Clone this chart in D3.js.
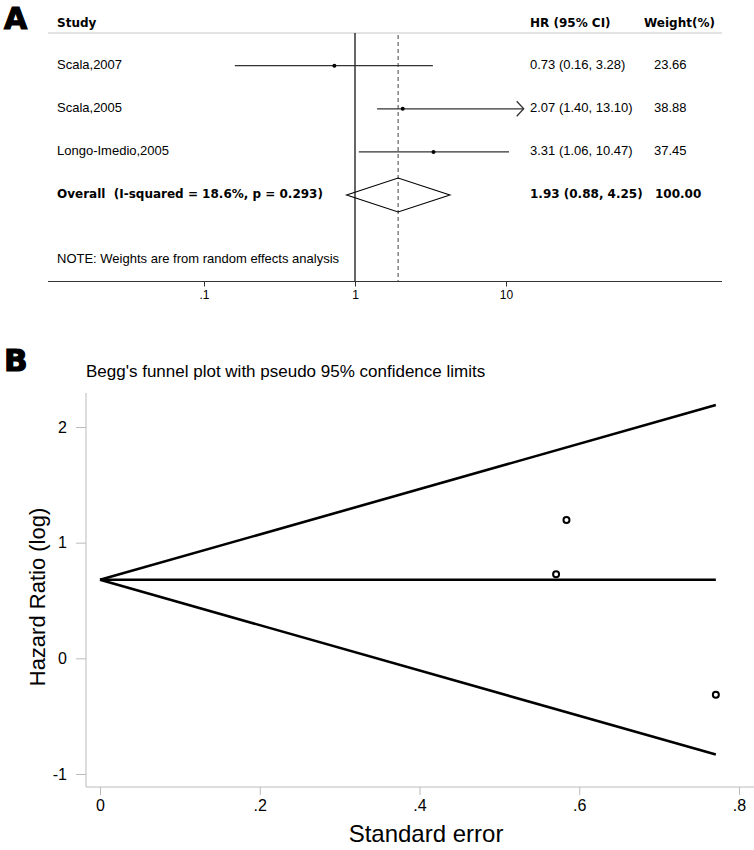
<!DOCTYPE html>
<html>
<head>
<meta charset="utf-8">
<script src="https://cdn.jsdelivr.net/npm/d3@7"></script>
<style>
  body { margin: 0; background: #fff; }
  svg { display: block; }
</style>
</head>
<body>
<script>
// forest plot data (panel A)
const studies = ['Scala,2007', 'Scala,2005', 'Longo-Imedio,2005'];
const hr = [0.73, 2.07, 3.31];
const ciLow = [0.16, 1.40, 1.06];
const ciHigh = [3.28, 13.10, 10.47];
const weights = ['23.66', '38.88', '37.45'];
const arrowRight = [false, true, false];
const overall = [1.93, 0.88, 4.25];   // HR, low, high
const overallLabel = 'Overall  (I-squared = 18.6%, p = 0.293)';
const forestTicks = [0.1, 1, 10];
const forestTickLabels = ['.1', '1', '10'];

// funnel plot data (panel B)
const seVals = [0.771, 0.571, 0.584];
const logHR = [-0.315, 0.728, 1.197];
const pooledSe = [0, 0.771];
const pooledLine = [0.679, 0.679];
const upperLimit = [0.679, 2.19];
const lowerLimit = [0.679, -0.832];
const funnelTicksX = [0, 0.2, 0.4, 0.6, 0.8];
const funnelTicksY = [-1, 0, 1, 2];

const w = 754, h = 850;
const arial = '"Liberation Sans", Arial, sans-serif';
const heavy = '"DejaVu Sans", sans-serif';

const svg = d3.select('body').append('svg')
    .attr('width', w)
    .attr('height', h);

// ---------- Panel A ----------
const xF = d3.scaleLog().domain([0.1, 10]).range([204, 506]);
const yRow = d3.scaleLinear().domain([0, 3]).range([65.7, 195]);
const fLeft = 48, fRight = 722, fTop = 33, axisY = 281.5;

svg.append('text').attr('x', 4).attr('y', 29)
    .style('font-family', heavy).style('font-weight', 'bold').style('font-size', '30px')
    .attr('stroke', '#000').attr('stroke-width', 1.2)
    .text('A');

const head = svg.append('g')
    .style('font-family', heavy).style('font-weight', 'bold').style('font-size', '12px');
head.append('text').attr('x', 57).attr('y', 27).text('Study');
head.append('text').attr('x', 530).attr('y', 27).text('HR (95% CI)');
head.append('text').attr('x', 644).attr('y', 27).text('Weight(%)');

svg.append('line')
    .attr('x1', fLeft).attr('x2', fRight).attr('y1', fTop).attr('y2', fTop)
    .attr('stroke', '#c8c8c8').attr('stroke-width', 1);

// null line and overall line
svg.append('line')
    .attr('x1', xF(1)).attr('x2', xF(1)).attr('y1', fTop).attr('y2', axisY)
    .attr('stroke', '#000').attr('stroke-width', 1.2);
svg.append('line')
    .attr('x1', xF(overall[0])).attr('x2', xF(overall[0])).attr('y1', fTop + 2).attr('y2', axisY)
    .attr('stroke', '#444').attr('stroke-width', 1).attr('stroke-dasharray', '4,3');

// study rows
const rows = svg.selectAll('.row').data(studies).enter().append('g').attr('class', 'row');
rows.append('text').attr('x', 57).attr('y', (d, i) => yRow(i) + 3)
    .style('font-family', arial).style('font-size', '13px').text(d => d);
rows.append('line')
    .attr('x1', (d, i) => xF(ciLow[i])).attr('x2', (d, i) => xF(ciHigh[i]))
    .attr('y1', (d, i) => yRow(i)).attr('y2', (d, i) => yRow(i))
    .attr('stroke', '#333').attr('stroke-width', 1.3);
rows.append('circle')
    .attr('cx', (d, i) => xF(hr[i])).attr('cy', (d, i) => yRow(i)).attr('r', 2)
    .attr('fill', '#000');
rows.filter((d, i) => arrowRight[i]).append('path')
    .attr('d', (d) => {
        const i = studies.indexOf(d);
        const x = xF(ciHigh[i]), y = yRow(i);
        return `M${x - 7},${y - 7.5}L${x},${y}L${x - 7},${y + 7.5}`;
    })
    .attr('fill', 'none').attr('stroke', '#333').attr('stroke-width', 1.3);
rows.append('text').attr('x', 530).attr('y', (d, i) => yRow(i) + 3)
    .style('font-family', arial).style('font-size', '13px')
    .text((d, i) => `${hr[i].toFixed(2)} (${ciLow[i].toFixed(2)}, ${ciHigh[i].toFixed(2)})`);
rows.append('text').attr('x', 654).attr('y', (d, i) => yRow(i) + 3)
    .style('font-family', arial).style('font-size', '13px')
    .text((d, i) => weights[i]);

// overall row
const yo = yRow(3);
svg.append('text').attr('x', 57).attr('y', yo + 3)
    .attr('xml:space', 'preserve').style('white-space', 'pre')
    .style('font-family', heavy).style('font-weight', 'bold').style('font-size', '12px')
    .text(overallLabel);
svg.append('path')
    .attr('d', `M${xF(overall[1])},${yo}L${xF(overall[0])},${yo - 17}L${xF(overall[2])},${yo}L${xF(overall[0])},${yo + 17}Z`)
    .attr('fill', 'none').attr('stroke', '#000').attr('stroke-width', 1.1);
svg.append('text').attr('x', 530).attr('y', yo + 3)
    .style('font-family', heavy).style('font-weight', 'bold').style('font-size', '12px')
    .text(`${overall[0].toFixed(2)} (${overall[1].toFixed(2)}, ${overall[2].toFixed(2)})`);
svg.append('text').attr('x', 655).attr('y', yo + 3)
    .style('font-family', heavy).style('font-weight', 'bold').style('font-size', '12px')
    .text('100.00');

svg.append('text').attr('x', 57).attr('y', 263)
    .style('font-family', arial).style('font-size', '13px')
    .text('NOTE: Weights are from random effects analysis');

// forest axis
svg.append('line')
    .attr('x1', fLeft).attr('x2', fRight).attr('y1', axisY).attr('y2', axisY)
    .attr('stroke', '#333').attr('stroke-width', 1.2);
const fAxis = d3.axisBottom(xF).tickValues(forestTicks)
    .tickFormat((d, i) => forestTickLabels[i]).tickSize(5).tickPadding(4);
const gf = svg.append('g').attr('transform', `translate(0,${axisY})`).call(fAxis);
gf.select('.domain').remove();
gf.selectAll('line').attr('stroke', '#333');
gf.selectAll('text').style('font-family', arial).style('font-size', '12px').attr('fill', '#000');

// ---------- Panel B ----------
const xS = d3.scaleLinear().domain([0, 0.8]).range([100, 739]);
const yS = d3.scaleLinear().domain([-1, 2]).range([774, 427]);
const bLeft = 86, bBottom = 787, bTop = 393;

svg.append('text').attr('x', 4).attr('y', 371)
    .style('font-family', heavy).style('font-weight', 'bold').style('font-size', '31px')
    .attr('stroke', '#000').attr('stroke-width', 1.2)
    .text('B');

svg.append('text').attr('x', 86).attr('y', 377)
    .style('font-family', arial).style('font-size', '17px')
    .text("Begg's funnel plot with pseudo 95% confidence limits");

// axes frame
svg.append('line').attr('x1', bLeft).attr('x2', bLeft).attr('y1', bTop).attr('y2', bBottom)
    .attr('stroke', '#bbb').attr('stroke-width', 1);
svg.append('line').attr('x1', bLeft).attr('x2', w).attr('y1', bBottom).attr('y2', bBottom)
    .attr('stroke', '#bbb').attr('stroke-width', 1);

const yAxis = d3.axisLeft(yS).tickValues(funnelTicksY).tickFormat(d => String(d))
    .tickSize(10).tickPadding(9);
const gy = svg.append('g').attr('transform', `translate(${bLeft},0)`).call(yAxis);
gy.select('.domain').remove();
gy.selectAll('line').attr('stroke', '#bbb');
gy.selectAll('text').style('font-family', arial).style('font-size', '16px').attr('fill', '#000');

const xAxis = d3.axisBottom(xS).tickValues(funnelTicksX)
    .tickFormat(d => d === 0 ? '0' : d3.format('.1f')(d).replace(/^0/, ''))
    .tickSize(8).tickPadding(5);
const gx = svg.append('g').attr('transform', `translate(0,${bBottom})`).call(xAxis);
gx.select('.domain').remove();
gx.selectAll('line').attr('stroke', '#bbb');
gx.selectAll('text').style('font-family', arial).style('font-size', '16px').attr('fill', '#000');

svg.append('text').attr('x', 426).attr('y', 842).attr('text-anchor', 'middle')
    .style('font-family', arial).style('font-size', '24px')
    .text('Standard error');
svg.append('text')
    .attr('transform', 'translate(45,597) rotate(-90)').attr('text-anchor', 'middle')
    .style('font-family', arial).style('font-size', '22px')
    .text('Hazard Ratio (log)');

// funnel lines
const line = d3.line().x(d => xS(d[0])).y(d => yS(d[1]));
[pooledLine, upperLimit, lowerLimit].forEach(vals => {
    svg.append('path')
        .attr('d', line(pooledSe.map((s, i) => [s, vals[i]])))
        .attr('fill', 'none').attr('stroke', '#000').attr('stroke-width', 2.6);
});

// study points
svg.selectAll('.pt').data(seVals).enter().append('circle')
    .attr('class', 'pt')
    .attr('cx', d => xS(d)).attr('cy', (d, i) => yS(logHR[i])).attr('r', 3)
    .attr('fill', '#fff').attr('stroke', '#000').attr('stroke-width', 2);
</script>
</body>
</html>
